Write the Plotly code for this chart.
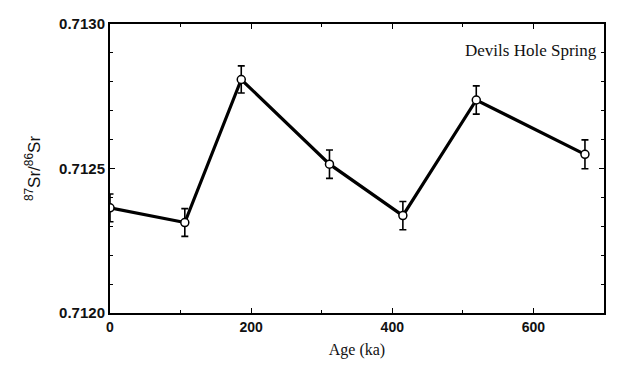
import plotly.graph_objects as go

age_ka = [0, 106, 186, 311, 415, 519, 673]
sr_ratio = [0.712364, 0.712313, 0.712808, 0.712515, 0.712337, 0.712737, 0.712549]
sr_err = [0.000048, 0.000048, 0.000047, 0.000049, 0.000049, 0.000049, 0.000050]

x_ticks = [0, 200, 400, 600]
y_ticks = [0.7120, 0.7125, 0.7130]
y_tick_labels = ["0.7120", "0.7125", "0.7130"]

fig = go.Figure()
fig.add_trace(go.Scatter(
    x=age_ka, y=sr_ratio,
    mode="lines+markers",
    line=dict(color="black", width=3.2),
    marker=dict(symbol="circle", size=8, color="white",
                line=dict(color="black", width=1.5)),
    error_y=dict(type="data", array=sr_err, visible=True,
                 color="black", thickness=1.6, width=3.5),
    showlegend=False,
))

axis_common = dict(
    showgrid=False, zeroline=False,
    showline=True, linecolor="black", linewidth=2,
    mirror="ticks", ticks="inside", ticklen=5, tickwidth=1.2, tickcolor="black",
)

fig.update_xaxes(
    range=[0, 700], tickvals=x_ticks,
    tickfont=dict(family="Liberation Sans, Arial", size=14, color="#111", weight="bold"),
    minor=dict(dtick=100, ticks="inside", ticklen=3, tickcolor="black"),
    title=dict(text="Age (ka)", font=dict(family="Liberation Serif, Times New Roman", size=16, color="#111"), standoff=10),
    **axis_common,
)
fig.update_yaxes(
    range=[0.7120, 0.7130], tickvals=y_ticks, ticktext=y_tick_labels,
    tickfont=dict(family="Liberation Sans, Arial", size=15, color="#111", weight="bold"),
    minor=dict(dtick=0.0001, ticks="inside", ticklen=3, tickcolor="black"),
    title=dict(text="<sup>87</sup>Sr/<sup>86</sup>Sr", font=dict(family="Liberation Sans, Arial", size=17, color="#111"), standoff=14),
    **axis_common,
)

fig.add_annotation(
    text="Devils Hole Spring", xref="paper", yref="paper",
    x=0.99, y=0.91, xanchor="right", yanchor="middle", showarrow=False,
    font=dict(family="Liberation Serif, Times New Roman", size=17, color="#111"),
)

fig.update_layout(
    width=623, height=358,
    margin=dict(l=102, r=27, t=7, b=53),
    paper_bgcolor="white", plot_bgcolor="white",
)

fig.write_html("out.html")
